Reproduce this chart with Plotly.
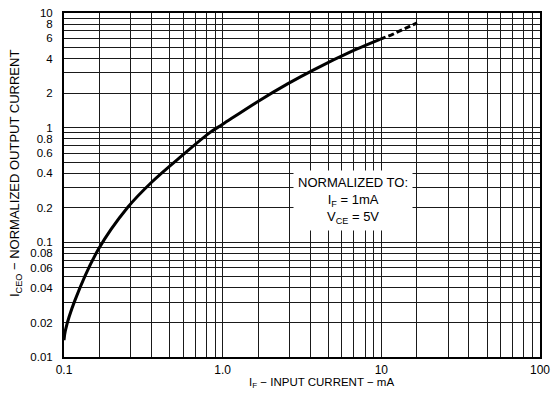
import plotly.graph_objects as go

# Curve data
if_solid = [0.1, 0.102, 0.117, 0.164, 0.253, 0.358, 0.554, 0.83, 1.0, 1.63, 2.58, 3.72, 6.8, 9.8]
iceo_solid = [0.014, 0.017, 0.031, 0.086, 0.203, 0.336, 0.57, 0.905, 1.07, 1.66, 2.42, 3.18, 4.76, 5.9]
if_dash = [9.8, 11.6, 16.8]
iceo_dash = [5.9, 6.45, 8.2]

# Grid positions as printed on the reference paper (x-grid multipliers)
x_mult = [1, 1.675, 2.642, 3.556, 4.645, 5.649, 6.714, 7.907, 8.954]
y_mult = [1, 2, 3, 4, 5, 6, 7, 8, 9]
x_labels = {0.1: "0.1", 1: "1.0", 10: "10", 100: "100"}
y_labels = {0.01: "0.01", 0.02: "0.02", 0.04: "0.04", 0.06: "0.06", 0.08: "0.08",
            0.1: "0.1", 0.2: "0.2", 0.4: "0.4", 0.6: "0.6", 0.8: "0.8",
            1: "1", 2: "2", 4: "4", 6: "6", 8: "8", 10: "10"}

x_grid = [m * 10 ** e for e in (-1, 0, 1) for m in x_mult] + [100]
y_grid = [m * 10 ** e for e in (-2, -1, 0) for m in y_mult] + [10]


def label_for(v, mp):
    for k, t in mp.items():
        if abs(v - k) < 1e-9 * max(1, k):
            return t
    return ""


x_text = [label_for(v, x_labels) for v in x_grid]
y_text = [label_for(v, y_labels) for v in y_grid]

FONT = "Liberation Sans, Arial, Helvetica, sans-serif"

W, H = 555, 394
PL, PR, PT, PB = 64, 540, 13, 357  # plot area in page pixels
L, R, T, B = PL, W - PR, PT, H - PB


def px(x_page):
    return (x_page - PL) / (PR - PL)


def py(y_page):
    return (PB - y_page) / (PB - PT)


fig = go.Figure()
fig.add_trace(go.Scatter(x=if_solid, y=iceo_solid, mode="lines",
                         line=dict(color="black", width=3, shape="spline", smoothing=1.0),
                         showlegend=False, hoverinfo="skip"))
fig.add_trace(go.Scatter(x=if_dash, y=iceo_dash, mode="lines",
                         line=dict(color="black", width=3, dash="6px,3px"),
                         showlegend=False, hoverinfo="skip"))

fig.update_layout(
    width=W, height=H,
    margin=dict(l=L, r=R, t=T, b=B, autoexpand=False),
    paper_bgcolor="white", plot_bgcolor="white",
    font=dict(family=FONT, color="black", size=12),
    xaxis=dict(type="log", range=[-1, 2], tickvals=x_grid, ticktext=x_text,
               showgrid=True, gridcolor="#1a1a1a", gridwidth=1,
               showline=True, linecolor="black", linewidth=2, mirror=True,
               ticks="", ticklabelstandoff=1, zeroline=False, automargin=False,
               ticklabeloverflow="allow", tickfont=dict(size=12)),
    yaxis=dict(type="log", range=[-2, 1], tickvals=y_grid, ticktext=y_text,
               showgrid=True, gridcolor="#1a1a1a", gridwidth=1,
               showline=True, linecolor="black", linewidth=2, mirror=True,
               ticks="", ticklabelstandoff=7, zeroline=False, automargin=False,
               ticklabeloverflow="allow", tickfont=dict(size=11.5)),
)

# Axis titles
fig.add_annotation(xref="paper", yref="paper", x=px(321), y=py(383),
                   text="I<sub>F</sub> \u2212 INPUT CURRENT \u2212 mA", showarrow=False,
                   font=dict(size=11.5, family=FONT), xanchor="center", yanchor="middle")
fig.add_annotation(xref="paper", yref="paper", x=px(15), y=py(174),
                   text="I<sub>CEO</sub> \u2212 NORMALIZED OUTPUT CURRENT", showarrow=False, textangle=-90,
                   font=dict(size=13, family=FONT), xanchor="center", yanchor="middle")

# Normalized-to box
fig.add_annotation(xref="paper", yref="paper", x=px(353), y=py(200),
                   text="NORMALIZED TO:<br>I<sub>F</sub> = 1mA<br>V<sub>CE</sub> = 5V",
                   showarrow=False, align="center", bgcolor="white", borderpad=4,
                   font=dict(size=13, family=FONT), xanchor="center", yanchor="middle")

fig.write_html("out.html", config={"displayModeBar": False},
               post_script="document.body.style.margin='0';")
